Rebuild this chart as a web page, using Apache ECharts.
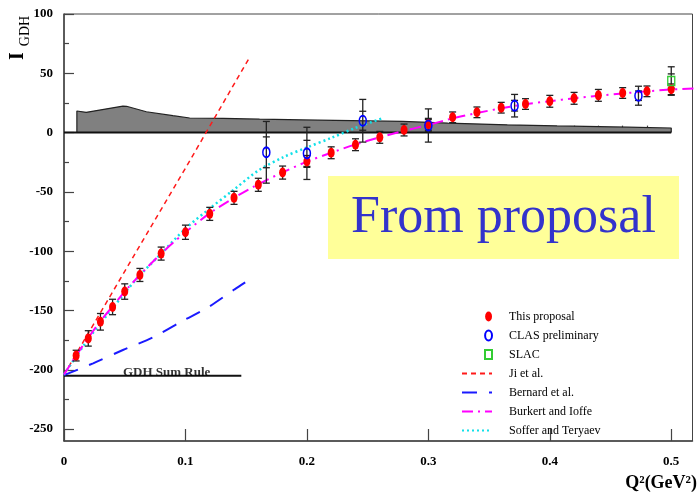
<!DOCTYPE html>
<html>
<head>
<meta charset="utf-8">
<script src="https://cdn.jsdelivr.net/npm/echarts@6/dist/echarts.min.js"></script>
<style>
  html, body { margin: 0; padding: 0; background: #fff; }
  #chart { width: 697px; height: 496px; }
</style>
</head>
<body>
<div id="chart"></div>
<script>
// ---- projected measurement ("This proposal") ----
const proposalQ2 = [0.01, 0.02, 0.03, 0.04, 0.05, 0.0625, 0.08, 0.10, 0.12, 0.14, 0.16, 0.18, 0.20, 0.22,
  0.24, 0.26, 0.28, 0.30, 0.32, 0.34, 0.36, 0.38, 0.40, 0.42, 0.44, 0.46, 0.48, 0.50];
const proposalI = [-188, -173.5, -159.5, -147, -134, -120, -102, -84, -68.5, -55, -44, -33.7, -24.3, -17,
  -10.2, -4, 2.2, 7, 12.9, 17.1, 21, 24.1, 26.4, 28.9, 31.4, 33.4, 34.8, 36.5];
const proposalErr = [4.5, 6.5, 7, 6.5, 6.5, 5.5, 5.5, 6, 5.5, 5.5, 5.5, 5.5, 5, 5,
  5, 5, 5, 5, 4.5, 4.5, 4.5, 4.5, 5, 5, 5, 4.5, 4.5, 4.5];

// ---- CLAS preliminary (total and statistical errors) ----
const clasQ2 = [0.1666, 0.2, 0.246, 0.30, 0.371, 0.473];
const clasI = [-16.6, -17.5, 10, 6, 22.7, 31.1];
const clasErrTot = [26, 22, 18, 14, 9.5, 8];
const clasErrStat = [13, 11, 8, 5, 4.5, 4];

// ---- SLAC ----
const slacQ2 = [0.5];
const slacI = [43.5];
const slacErr = [12];
const slacErrStat = [6];

// ---- systematic uncertainty band ----
const sysQ2 = [0.0106, 0.0106, 0.0183, 0.0485, 0.0515, 0.0678, 0.0897, 0.1035, 0.131, 0.131, 0.161, 0.161,
  0.209, 0.209, 0.279, 0.279, 0.316, 0.316, 0.365, 0.365, 0.406, 0.406, 0.464, 0.464, 0.5, 0.5];
const sysI = [0, 18.2, 17.1, 22.4, 22.2, 17.6, 14.3, 12.3, 12, 11.3, 11.3, 10.5,
  10.5, 9.8, 9.4, 8.4, 8.0, 7.0, 6.6, 5.8, 5.6, 5.0, 4.6, 3.9, 3.9, 0];

// ---- model curves ----
const jiQ2 = [0, 0.05, 0.10, 0.152];
const jiI = [-204, -117, -30, 62];

const bernardQ2 = [0, 0.024, 0.0485, 0.0732, 0.098, 0.1186, 0.1405, 0.151];
const bernardI = [-204.5, -194.5, -183.3, -172.6, -158.6, -147.3, -132.1, -125.1];

const burkertQ2 = [0, 0.01, 0.02, 0.03, 0.04, 0.05, 0.0625, 0.08, 0.10, 0.12, 0.14, 0.16, 0.18, 0.20, 0.22,
  0.24, 0.26, 0.28, 0.30, 0.32, 0.34, 0.36, 0.38, 0.40, 0.42, 0.44, 0.46, 0.48, 0.50, 0.52];
const burkertI = [-204, -188, -173, -159, -146.5, -134, -120, -102, -84, -68, -55, -43.5, -33.5, -24.5, -17,
  -10, -4, 1.5, 6.5, 12, 16.5, 20.5, 24, 26.5, 29, 31, 33, 34.8, 36.3, 37.3];

const sofferQ2 = [0, 0.02, 0.04, 0.06, 0.08, 0.10, 0.12, 0.14, 0.16, 0.18, 0.20, 0.22, 0.24, 0.262];
const sofferI = [-204, -174, -148, -123, -102, -81, -64, -48, -32, -21, -12.5, -4.5, 4, 12];

// GDH sum rule value at the real photon point
const gdhSumRule = -205;
const gdhLineQ2 = [0, 0.146];

// zero line
const zeroQ2 = [0, 0.5];

// ---- axis ticks / labels ----
const xMajor = [0, 0.1, 0.2, 0.3, 0.4, 0.5];
const xMinor = [0.02, 0.04, 0.06, 0.08, 0.12, 0.14, 0.16, 0.18, 0.22, 0.24, 0.26, 0.28,
  0.32, 0.34, 0.36, 0.38, 0.42, 0.44, 0.46, 0.48];
const yMajor = [-250, -200, -150, -100, -50, 0, 50, 100];
const yMinor = [-225, -175, -125, -75, -25, 25, 75];

const pairs = (xs, ys) => xs.map((x, i) => [x, ys[i]]);

const SERIF = '"Liberation Serif", "Times New Roman", serif';

// error bars with caps; optional inner caps for the statistical part
function errorBars(color, capHalf) {
  return function (params, api) {
    const x = api.value(0), y = api.value(1), e = api.value(2), s = api.value(3);
    const top = api.coord([x, y + e]);
    const bot = api.coord([x, y - e]);
    const st = { stroke: color, lineWidth: 1.3 };
    const kids = [
      { type: 'line', shape: { x1: top[0], y1: top[1], x2: bot[0], y2: bot[1] }, style: st },
      { type: 'line', shape: { x1: top[0] - capHalf, y1: top[1], x2: top[0] + capHalf, y2: top[1] }, style: st },
      { type: 'line', shape: { x1: bot[0] - capHalf, y1: bot[1], x2: bot[0] + capHalf, y2: bot[1] }, style: st }
    ];
    if (s > 0) {
      const t2 = api.coord([x, y + s]);
      const b2 = api.coord([x, y - s]);
      kids.push({ type: 'line', shape: { x1: t2[0] - capHalf, y1: t2[1], x2: t2[0] + capHalf, y2: t2[1] }, style: st });
      kids.push({ type: 'line', shape: { x1: b2[0] - capHalf, y1: b2[1], x2: b2[0] + capHalf, y2: b2[1] }, style: st });
    }
    return { type: 'group', children: kids };
  };
}

const ellipseIcon = 'path://M0,0M30,10M23.5,5A3.5,5,0,1,1,30.5,5A3.5,5,0,1,1,23.5,5Z';
const squareIcon = 'path://M0,0M30,10M23,0.5L30,0.5L30,9.5L23,9.5Z';
const hiddenMarker = { opacity: 0, color: 'rgba(0,0,0,0)', borderWidth: 0 };

const chart = echarts.init(document.getElementById('chart'), null, { renderer: 'canvas' });

const option = {
  animation: false,
  backgroundColor: '#ffffff',
  grid: {
    left: 64, right: 4.5, top: 14, bottom: 55,
    show: true, borderColor: '#444', borderWidth: 1, backgroundColor: 'transparent'
  },
  xAxis: [
    {
      type: 'value', min: 0, max: 0.5175, position: 'bottom',
      axisLine: { show: true, onZero: false, lineStyle: { color: '#444', width: 1.5 } },
      axisTick: { show: true, inside: true, length: 12, customValues: xMajor, lineStyle: { color: '#444', width: 1.2 } },
      axisLabel: {
        show: true, customValues: xMajor, margin: 14,
        fontFamily: SERIF, fontWeight: 'bold', fontSize: 13, color: '#000',
        formatter: v => String(v)
      },
      splitLine: { show: false }
    },
    {
      type: 'value', min: 0, max: 0.5175, position: 'bottom',
      axisLine: { show: false },
      axisTick: { show: true, inside: true, length: 7, customValues: xMinor, lineStyle: { color: '#444', width: 1.2 } },
      axisLabel: { show: false },
      splitLine: { show: false }
    }
  ],
  yAxis: [
    {
      type: 'value', min: -260, max: 100, position: 'left',
      axisLine: { show: true, onZero: false, lineStyle: { color: '#444', width: 1.5 } },
      axisTick: { show: true, inside: true, length: 10, customValues: yMajor, lineStyle: { color: '#444', width: 1.2 } },
      axisLabel: {
        show: true, customValues: yMajor, margin: 11,
        fontFamily: SERIF, fontWeight: 'bold', fontSize: 13, color: '#000',
        formatter: v => String(v)
      },
      splitLine: { show: false }
    },
    {
      type: 'value', min: -260, max: 100, position: 'left',
      axisLine: { show: false },
      axisTick: { show: true, inside: true, length: 5, customValues: yMinor, lineStyle: { color: '#444', width: 1.2 } },
      axisLabel: { show: false },
      splitLine: { show: false }
    }
  ],
  legend: {
    orient: 'vertical', left: 461, top: 310.5, padding: 0,
    itemWidth: 30, itemHeight: 11, itemGap: 7,
    selectedMode: false,
    textStyle: { fontFamily: SERIF, fontSize: 12, color: '#000', padding: [0, 0, 0, 12] },
    data: [
      { name: 'This proposal', icon: ellipseIcon },
      { name: 'CLAS preliminary', icon: ellipseIcon },
      { name: 'SLAC', icon: squareIcon },
      { name: 'Ji et al.', itemStyle: hiddenMarker },
      { name: 'Bernard et al.', itemStyle: hiddenMarker },
      { name: 'Burkert and Ioffe', itemStyle: hiddenMarker },
      { name: 'Soffer and Teryaev', itemStyle: hiddenMarker }
    ]
  },
  graphic: [
    {
      type: 'rect', z: 0,
      shape: { x: 328, y: 176, width: 351, height: 83 },
      style: { fill: '#ffff99' }
    },
    {
      type: 'text', z: 1, x: 503.5, y: 218,
      style: { text: 'From proposal', fontFamily: SERIF, fontSize: 52, fill: '#3333cc', align: 'center', verticalAlign: 'middle' }
    },
    {
      type: 'text', x: 18, y: 56, rotation: Math.PI / 2,
      style: { text: 'I', fontFamily: SERIF, fontSize: 20, fontWeight: 'bold', fill: '#000', align: 'center', verticalAlign: 'middle' }
    },
    {
      type: 'text', x: 25, y: 31, rotation: Math.PI / 2,
      style: { text: 'GDH', fontFamily: SERIF, fontSize: 14, fill: '#000', align: 'center', verticalAlign: 'middle' }
    },
    {
      type: 'text', x: 697, y: 483,
      style: { text: 'Q\u00B2(GeV\u00B2)', fontFamily: SERIF, fontSize: 18, fontWeight: 'bold', fill: '#000', align: 'right', verticalAlign: 'middle' }
    }
  ],
  series: [
    {
      name: 'systematics', type: 'line', z: 1, data: pairs(sysQ2, sysI),
      symbol: 'none', silent: true,
      lineStyle: { color: '#222', width: 1.2 },
      areaStyle: { color: '#808080', opacity: 1, origin: 0 }
    },
    {
      name: 'zero', type: 'line', z: 1, data: zeroQ2.map(q => [q, 0]),
      symbol: 'none', silent: true, lineStyle: { color: '#111', width: 2 }
    },
    {
      name: 'GDH sum rule', type: 'line', z: 2, data: gdhLineQ2.map(q => [q, gdhSumRule]),
      symbol: 'none', silent: true, lineStyle: { color: '#111', width: 2 }
    },
    {
      name: 'GDH label', type: 'scatter', z: 2, data: [[0.0845, gdhSumRule]],
      symbolSize: 0, silent: true,
      label: {
        show: true, position: 'inside', offset: [0, -3], formatter: 'GDH Sum Rule',
        fontFamily: SERIF, fontSize: 13, fontWeight: 'bold', color: '#000'
      }
    },
    {
      name: 'Ji et al.', type: 'line', z: 3, data: pairs(jiQ2, jiI), symbol: 'none',
      lineStyle: { color: '#ff1a1a', width: 1.5, type: [5, 4] }
    },
    {
      name: 'Bernard et al.', type: 'line', z: 3, data: pairs(bernardQ2, bernardI), symbol: 'none', smooth: 0.3,
      lineStyle: { color: '#1a1aff', width: 2, type: [15, 12] }
    },
    {
      name: 'Soffer and Teryaev', type: 'line', z: 3, data: pairs(sofferQ2, sofferI), symbol: 'none', smooth: 0.3,
      lineStyle: { color: '#11e0e8', width: 2.5, type: [2, 3] }
    },
    {
      name: 'Burkert and Ioffe', type: 'line', z: 3, data: pairs(burkertQ2, burkertI), symbol: 'none', smooth: 0.3,
      lineStyle: { color: '#ff00ff', width: 2, type: [11, 5, 2, 5] }
    },
    {
      name: 'proposal errors', type: 'custom', z: 4, silent: true,
      renderItem: errorBars('#222', 3.5),
      encode: { x: 0, y: 1 },
      data: proposalQ2.map((q, i) => [q, proposalI[i], proposalErr[i], 0])
    },
    {
      name: 'clas errors', type: 'custom', z: 4, silent: true,
      renderItem: errorBars('#222', 3.5),
      encode: { x: 0, y: 1 },
      data: clasQ2.map((q, i) => [q, clasI[i], clasErrTot[i], clasErrStat[i]])
    },
    {
      name: 'slac errors', type: 'custom', z: 4, silent: true,
      renderItem: errorBars('#222', 3.5),
      encode: { x: 0, y: 1 },
      data: slacQ2.map((q, i) => [q, slacI[i], slacErr[i], slacErrStat[i]])
    },
    {
      name: 'This proposal', type: 'scatter', z: 5, data: pairs(proposalQ2, proposalI),
      symbol: 'circle', symbolSize: [7, 10],
      itemStyle: { color: '#ff0000', opacity: 1 }
    },
    {
      name: 'CLAS preliminary', type: 'scatter', z: 6, data: pairs(clasQ2, clasI),
      symbol: 'circle', symbolSize: [7, 10],
      itemStyle: { color: 'rgba(255,255,255,0)', borderColor: '#0000ff', borderWidth: 1.8, opacity: 1 }
    },
    {
      name: 'SLAC', type: 'scatter', z: 6, data: pairs(slacQ2, slacI),
      symbol: 'rect', symbolSize: [7, 9],
      itemStyle: { color: 'rgba(255,255,255,0)', borderColor: '#33cc33', borderWidth: 1.5, opacity: 1 }
    }
  ]
};

chart.setOption(option);
</script>
</body>
</html>
